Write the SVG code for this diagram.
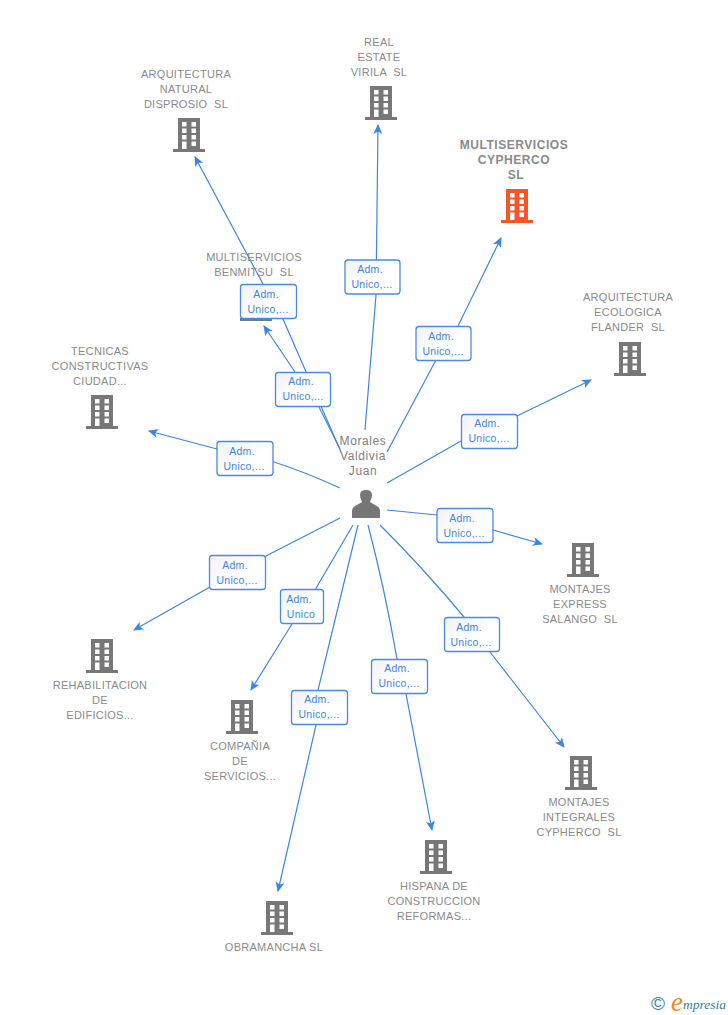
<svg xmlns="http://www.w3.org/2000/svg" width="728" height="1015" viewBox="0 0 728 1015">
<style>
text{font-family:"Liberation Sans",Arial,sans-serif;white-space:pre}
.n{font-size:11px;fill:#8a8a8a;text-anchor:middle;letter-spacing:.27px}
.h{font-size:12px;font-weight:bold;fill:#8a8a8a;text-anchor:middle;letter-spacing:.55px}
.p{font-size:12px;fill:#808080;text-anchor:middle;letter-spacing:.6px}
.c{fill:none;stroke:#3d85e0;stroke-width:1.2}
.b{fill:url(#g);stroke:#4a8ae0;stroke-width:1.3}
.l{font-size:10.5px;fill:#3d85e0;text-anchor:middle;letter-spacing:.3px}
</style>
<defs>
<linearGradient id="g" x1="0" y1="0" x2="1" y2="1"><stop offset="0" stop-color="#f2f2f4"/><stop offset="0.6" stop-color="#fff"/></linearGradient>
<marker id="a" markerWidth="11" markerHeight="10" refX="9" refY="4.500" orient="auto" markerUnits="userSpaceOnUse"><path d="M0 0L10 4.500L0 9L2.500 4.500Z" fill="#3d85e0"/></marker>
<path id="bp" fill-rule="evenodd" d="M-11 0H11V31H16V34H-16V31H-11ZM-7 4V8.500H-2.500V4ZM2.500 4V8.500H7V4ZM-7 10.500V15H-2.500V10.500ZM2.500 10.500V15H7V10.500ZM-7 17V21.500H-2.500V17ZM2.500 17V21.500H7V17ZM-7 23.500V31H-2.500V23.500ZM2.500 23.500V28H7V23.500Z"/>
</defs>
<g id="connectors">
<path class="c" marker-end="url(#a)" d="M365 430L376 295L378 125"/>
<path class="c" marker-end="url(#a)" d="M341 452L283 319L263 284L195 157"/>
<path class="c" marker-end="url(#a)" d="M340 449L319 407L295 372L264 326"/>
<path class="c" marker-end="url(#a)" d="M340 488Q305 472 274 462L217 449L149 431"/>
<path class="c" marker-end="url(#a)" d="M387 452L436 360L458 326L501 238"/>
<path class="c" marker-end="url(#a)" d="M387 483L461 441L517 416L591 380"/>
<path class="c" marker-end="url(#a)" d="M387 510L437 515L493 530L542 544"/>
<path class="c" marker-end="url(#a)" d="M380 525Q425 570 464 617L490 652L564 747"/>
<path class="c" marker-end="url(#a)" d="M368 525Q385 590 397 659L406 694L432 830"/>
<path class="c" marker-end="url(#a)" d="M358 525L318 690L316 725L278 891"/>
<path class="c" marker-end="url(#a)" d="M353 525L315 590L292 624L251 690"/>
<path class="c" marker-end="url(#a)" d="M340 518L266 556L210 587L134 630"/>
</g>
<g id="n-real" fill="#777"><text class="n" x="379" y="46">REAL</text><text class="n" x="379" y="61">ESTATE</text><text class="n" x="379" y="76">VIRILA  SL</text><use href="#bp" x="381" y="86"/></g>
<g id="n-natural" fill="#777"><text class="n" x="186" y="78">ARQUITECTURA</text><text class="n" x="186" y="93">NATURAL</text><text class="n" x="186" y="108">DISPROSIO  SL</text><use href="#bp" x="189" y="118"/></g>
<g id="n-cypherco" fill="#f4562a"><text class="h" x="514" y="149">MULTISERVICIOS</text><text class="h" x="514" y="164">CYPHERCO</text><text class="h" x="516" y="179">SL</text><use href="#bp" x="517" y="189"/></g>
<g id="n-benmitsu" fill="#777"><text class="n" x="254" y="261">MULTISERVICIOS</text><text class="n" x="254" y="276">BENMITSU  SL</text><use href="#bp" x="256" y="287"/></g>
<g id="n-flander" fill="#777"><text class="n" x="628" y="301">ARQUITECTURA</text><text class="n" x="628" y="316">ECOLOGICA</text><text class="n" x="628" y="331">FLANDER  SL</text><use href="#bp" x="630" y="342"/></g>
<g id="n-tecnicas" fill="#777"><text class="n" x="100" y="355">TECNICAS</text><text class="n" x="100" y="370">CONSTRUCTIVAS</text><text class="n" x="100" y="385">CIUDAD...</text><use href="#bp" x="102" y="395"/></g>
<g id="n-salango" fill="#777"><use href="#bp" x="583" y="543"/><text class="n" x="580" y="593">MONTAJES</text><text class="n" x="580" y="608">EXPRESS</text><text class="n" x="580" y="623">SALANGO  SL</text></g>
<g id="n-integrales" fill="#777"><use href="#bp" x="581" y="756"/><text class="n" x="579" y="806">MONTAJES</text><text class="n" x="579" y="821">INTEGRALES</text><text class="n" x="579" y="836">CYPHERCO  SL</text></g>
<g id="n-hispana" fill="#777"><use href="#bp" x="436" y="840"/><text class="n" x="434" y="890">HISPANA DE</text><text class="n" x="434" y="905">CONSTRUCCION</text><text class="n" x="434" y="920">REFORMAS...</text></g>
<g id="n-obramancha" fill="#777"><use href="#bp" x="277" y="901"/><text class="n" x="274" y="951">OBRAMANCHA SL</text></g>
<g id="n-compania" fill="#777"><use href="#bp" x="242" y="700"/><text class="n" x="240" y="750">COMPAÑIA</text><text class="n" x="240" y="765">DE</text><text class="n" x="240" y="780">SERVICIOS...</text></g>
<g id="n-rehab" fill="#777"><use href="#bp" x="102" y="639"/><text class="n" x="100" y="689">REHABILITACION</text><text class="n" x="100" y="704">DE</text><text class="n" x="100" y="719">EDIFICIOS...</text></g>
<g id="n-person"><text class="p" x="363" y="445">Morales</text><text class="p" x="363" y="460">Valdivia</text><text class="p" x="363" y="475">Juan</text>
<path fill="#777" d="M352 518V511Q352 507 357 505L362 502Q360 498 360 495Q360 490 366 490Q372 490 372 495Q372 498 370 502L375 505Q380 507 380 511V518Z"/></g>
<g id="e-1"><rect class="b" x="345" y="260" width="55" height="34" rx="3"/><text class="l" x="370" y="273">Adm.</text><text class="l" x="372" y="288">Unico,...</text></g>
<g id="e-2"><rect class="b" x="240.500" y="284.500" width="56" height="34" rx="3"/><text class="l" x="266" y="298">Adm.</text><text class="l" x="268" y="313">Unico,...</text></g>
<g id="e-3"><rect class="b" x="275.500" y="372.500" width="55" height="34" rx="3"/><text class="l" x="301" y="385">Adm.</text><text class="l" x="303" y="400">Unico,...</text></g>
<g id="e-4"><rect class="b" x="217" y="441.500" width="56" height="34" rx="3"/><text class="l" x="242" y="455">Adm.</text><text class="l" x="244" y="470">Unico,...</text></g>
<g id="e-5"><rect class="b" x="416" y="326.500" width="55" height="34" rx="3"/><text class="l" x="441" y="340">Adm.</text><text class="l" x="443" y="355">Unico,...</text></g>
<g id="e-6"><rect class="b" x="461.500" y="414.500" width="56" height="34" rx="3"/><text class="l" x="487" y="427">Adm.</text><text class="l" x="489" y="442">Unico,...</text></g>
<g id="e-7"><rect class="b" x="437" y="508.500" width="56" height="34" rx="3"/><text class="l" x="462" y="522">Adm.</text><text class="l" x="464" y="537">Unico,...</text></g>
<g id="e-8"><rect class="b" x="444.500" y="617.500" width="55" height="34" rx="3"/><text class="l" x="469" y="631">Adm.</text><text class="l" x="471" y="646">Unico,...</text></g>
<g id="e-9"><rect class="b" x="371.500" y="659.500" width="56" height="34" rx="3"/><text class="l" x="397" y="672">Adm.</text><text class="l" x="399" y="687">Unico,...</text></g>
<g id="e-10"><rect class="b" x="291.500" y="690.500" width="56" height="34" rx="3"/><text class="l" x="317" y="703">Adm.</text><text class="l" x="319" y="718">Unico,...</text></g>
<g id="e-11"><rect class="b" x="280.500" y="589.500" width="43" height="34" rx="3"/><text class="l" x="299" y="603">Adm.</text><text class="l" x="301" y="618">Unico</text></g>
<g id="e-12"><rect class="b" x="209.500" y="555.500" width="56" height="34" rx="3"/><text class="l" x="235" y="569">Adm.</text><text class="l" x="237" y="584">Unico,...</text></g>
<g id="logo"><text x="658" y="1010" font-size="19" fill="#3f7f96" text-anchor="middle">©</text>
<text x="671" y="1011" font-size="27" font-style="italic" fill="#f08a1d" style="font-family:'Liberation Serif',serif">e</text><text x="683" y="1009" font-size="13.500" font-style="italic" fill="#2f7f96" style="font-family:'Liberation Serif',serif">mpresia</text></g>
</svg>
